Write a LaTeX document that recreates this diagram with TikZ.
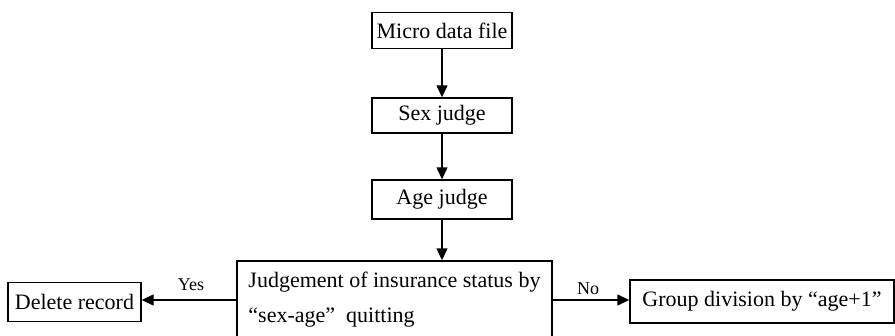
\documentclass[tikz,border=0pt]{standalone}
\usepackage{fontspec}
\setmainfont{Liberation Serif}
\usetikzlibrary{arrows.meta}
\begin{document}
\begin{tikzpicture}[x=1pt,y=-1pt,
    every node/.style={draw=black,line width=1.4pt,inner sep=0pt,font=\fontsize{22}{35}\selectfont},
    flow/.style={-{Triangle[length=12pt,width=11pt]},line width=1.4pt},
    lbl/.style={draw=none,font=\fontsize{18}{20}\selectfont}]
        \clip (0,0) rectangle (895,335);
        \node[minimum width=140,minimum height=36] (micro) at (442,30.5) {Micro data file};
        \node[minimum width=140,minimum height=35] (sex) at (442,115.5) {Sex judge};
        \node[minimum width=140,minimum height=39] (age) at (442,199.5) {Age judge};
        \node[minimum width=315,minimum height=78,align=left] (judge) at (394.5,300) {Judgement of insurance status by\\“sex-age”\ \ quitting};
        \node[minimum width=133,minimum height=39] (delete) at (74.5,302) {Delete record};
        \node[minimum width=264,minimum height=43] (group) at (762,301.5) {Group division by “age+1”};
        \draw[flow] (micro) -- (sex);
        \draw[flow] (sex) -- (age);
        \draw[flow] (age.south) -- (age.south |- judge.north);
        \draw[flow] (judge.west) -- (judge.west -| delete.east);
        \draw[flow] (judge.east) -- (judge.east -| group.west);
        \node[lbl] (yes) at (191,285) {Yes};
        \node[lbl] (no) at (588,289) {No};
\end{tikzpicture}
\end{document}
